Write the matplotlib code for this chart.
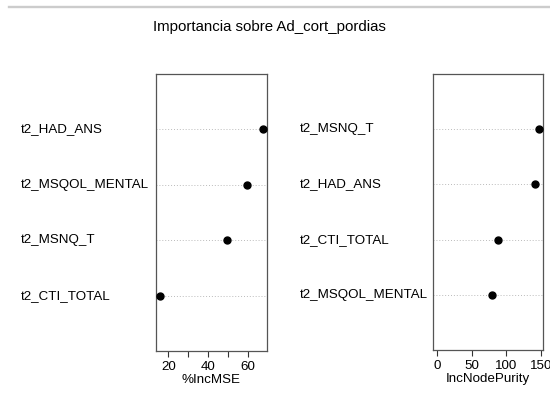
import matplotlib.pyplot as plt
import matplotlib.transforms as mtransforms
from matplotlib.lines import Line2D

plt.rcParams['font.family'] = ['Liberation Sans', 'DejaVu Sans']

# variable importance, listed bottom to top as in the dotchart
mse_vars = ['t2_CTI_TOTAL', 't2_MSNQ_T', 't2_MSQOL_MENTAL', 't2_HAD_ANS']
mse_vals = [15.8, 49.4, 59.7, 67.6]
purity_vars = ['t2_MSQOL_MENTAL', 't2_CTI_TOTAL', 't2_HAD_ANS', 't2_MSNQ_T']
purity_vals = [79.0, 87.6, 141.4, 146.6]

mse_ticks = [20, 30, 40, 50, 60]
mse_ticklabels = ['20', '', '40', '', '60']
purity_ticks = [0, 50, 100, 150]
purity_ticklabels = ['0', '50', '100', '150']

title = 'Importancia sobre Ad_cort_pordias'

fig = plt.figure(figsize=(5.5, 3.94), dpi=100)

# light grey band at the top
fig.add_artist(Line2D([0.016, 1.0], [0.9815, 0.9815], transform=fig.transFigure,
                      color='#cccccc', lw=1.7))
fig.text(0.49, 0.9315, title, ha='center', va='center', fontsize=10.8)


def dot_panel(rect, names, vals, xlim, ticks, ticklabels, xlabel, label_x):
    ax = fig.add_axes(rect)
    ys = list(range(1, len(vals) + 1))
    for y in ys:
        ax.axhline(y, color='#bbbbbb', lw=0.7, ls=(0, (1, 2)), zorder=1)
    ax.plot(vals, ys, 'o', color='black', ms=5, zorder=3)
    ax.set_xlim(*xlim)
    ax.set_ylim(0, len(vals) + 1)
    ax.set_yticks([])
    ax.set_xticks(ticks)
    ax.set_xticklabels(ticklabels)
    ax.tick_params(axis='x', direction='out', length=4, width=0.8, pad=3.5,
                   labelsize=9.6, color='#333333')
    ax.set_xlabel(xlabel, fontsize=9.6, labelpad=0.5)
    for s in ax.spines.values():
        s.set_color('#555555')
        s.set_linewidth(0.9)
    tr = mtransforms.blended_transform_factory(fig.transFigure, ax.transData)
    for y, n in zip(ys, names):
        ax.text(label_x, y, n, transform=tr, ha='left', va='center', fontsize=9.6)
    return ax


# x ranges like R's dotchart: data range extended by 4 %
lo, hi = min(mse_vals), max(mse_vals)
ext = (hi - lo) * 0.04
dot_panel([0.2836, 0.1091, 0.2018, 0.7031], mse_vars, mse_vals,
          (lo - ext, hi + ext), mse_ticks, mse_ticklabels, '%IncMSE', 0.038)

hi = max(purity_vals)
ext = hi * 0.04
dot_panel([0.7867, 0.1117, 0.2006, 0.7005], purity_vars, purity_vals,
          (-ext, hi + ext), purity_ticks, purity_ticklabels, 'IncNodePurity', 0.545)

fig.savefig('out.png', dpi=100)
